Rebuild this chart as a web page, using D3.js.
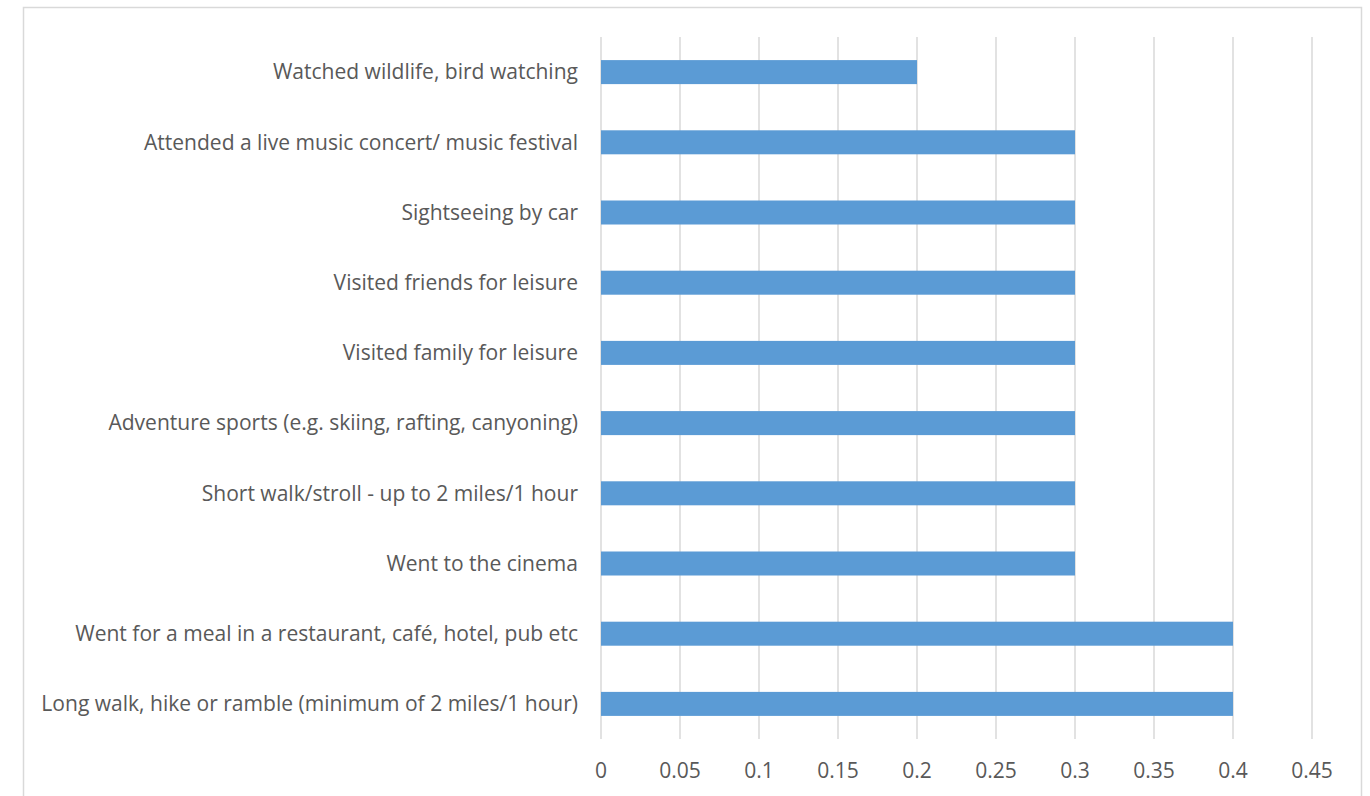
<!DOCTYPE html>
<html><head><meta charset="utf-8">
<script src="https://cdn.jsdelivr.net/npm/d3@7"></script>
<style>body{margin:0;background:#fff}svg{display:block}</style>
</head><body>
<svg id="c" width="1370" height="796"></svg>
<script>
const categories = [
  "Watched wildlife, bird watching",
  "Attended a live music concert/ music festival",
  "Sightseeing by car",
  "Visited friends for leisure",
  "Visited family for leisure",
  "Adventure sports (e.g. skiing, rafting, canyoning)",
  "Short walk/stroll - up to 2 miles/1 hour",
  "Went to the cinema",
  "Went for a meal in a restaurant, café, hotel, pub etc",
  "Long walk, hike or ramble (minimum of 2 miles/1 hour)"
];
const values = [0.2, 0.3, 0.3, 0.3, 0.3, 0.3, 0.3, 0.3, 0.4, 0.4];
const tickValues = [0, 0.05, 0.1, 0.15, 0.2, 0.25, 0.3, 0.35, 0.4, 0.45];
const tickLabels = ["0", "0.05", "0.1", "0.15", "0.2", "0.25", "0.3", "0.35", "0.4", "0.45"];

const svg = d3.select("#c");
const font = "'Open Sans', sans-serif";
const textColor = "#595959";

// chart border
svg.append("rect").attr("x", 23.5).attr("y", 7.5).attr("width", 1338).attr("height", 800)
  .attr("fill", "none").attr("stroke", "#d9d9d9").attr("stroke-width", 1.5);

const x = d3.scaleLinear().domain([0, 0.45]).range([601, 1312]);
const y = d3.scaleBand().domain(categories).range([37, 739]).paddingInner(0.658).paddingOuter(0.329);

// gridlines
svg.append("g").selectAll("line").data(tickValues).join("line")
  .attr("x1", d => x(d)).attr("x2", d => x(d)).attr("y1", 37).attr("y2", 739)
  .attr("stroke", "#d9d9d9").attr("stroke-width", 1.5);

// bars
svg.append("g").selectAll("rect").data(values).join("rect")
  .attr("x", x(0)).attr("y", (d, i) => y(categories[i]))
  .attr("width", d => x(d) - x(0)).attr("height", y.bandwidth())
  .attr("fill", "#5b9bd5");

// category labels, sized so the longest spans the reference width
const labels = svg.append("g").selectAll("text").data(categories).join("text")
  .attr("x", 578).attr("y", d => y(d) + y.bandwidth() / 2)
  .attr("dy", "0.35em").attr("text-anchor", "end")
  .attr("font-family", font).attr("fill", textColor).attr("font-size", 20)
  .text(d => d);
let maxW = 0;
labels.each(function () { maxW = Math.max(maxW, this.getComputedTextLength()); });
const fs = 20 * 537 / maxW;
labels.attr("font-size", fs);

// x-axis tick labels
svg.append("g").selectAll("text").data(tickValues).join("text")
  .attr("x", d => x(d)).attr("y", 771).attr("dy", "0.35em").attr("text-anchor", "middle")
  .attr("font-family", font).attr("fill", textColor).attr("font-size", fs)
  .text((d, i) => tickLabels[i]);
</script>
</body></html>
